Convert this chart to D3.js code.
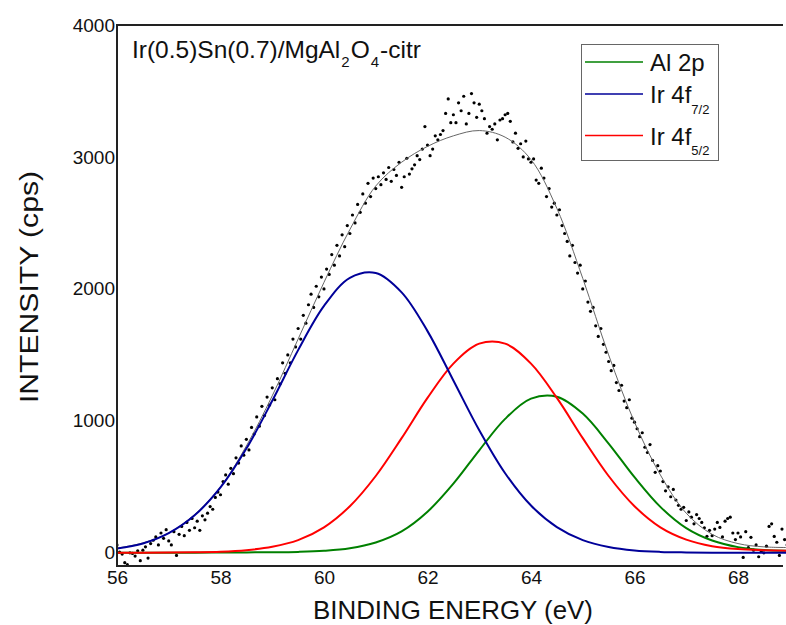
<!DOCTYPE html>
<html>
<head>
<meta charset="utf-8">
<script src="https://cdn.jsdelivr.net/npm/d3@7"></script>
<style>
  html, body { margin: 0; padding: 0; background: #ffffff; }
  svg { display: block; }
  text { font-family: "Liberation Sans", Arial, sans-serif; fill: #111; }
</style>
</head>
<body>
<svg id="chart" width="786" height="625"></svg>
<script>
// Binding-energy grid of the fitted curves (eV, 0.5 eV step)
const fitEnergy = [56, 56.5, 57, 57.5, 58, 58.5, 59, 59.5, 60, 60.5, 61, 61.5, 62, 62.5,
                   63, 63.5, 64, 64.5, 65, 65.5, 66, 66.5, 67, 67.5, 68, 68.5, 69];

// Fitted components (cps)
const ir72 = [32, 71, 149, 284, 495, 790, 1152, 1536, 1871, 2084, 2121, 1974, 1680, 1306,
              929, 603, 358, 195, 96, 44, 18, 7, 3, 1, 0, 0, 0];
const ir52 = [1, 1, 2, 4, 8, 20, 46, 96, 193, 353, 582, 869, 1174, 1434,
              1585, 1585, 1434, 1174, 869, 582, 353, 193, 100, 50, 28, 20, 16];
const al2p = [0, 0, 1, 1, 2, 3, 4, 7, 15, 34, 78, 162, 311, 524,
              777, 1015, 1168, 1183, 1055, 828, 573, 348, 187, 93, 43, 22, 16];
// Overall fit envelope (cps)
const envelope = [35, 75, 150, 290, 500, 810, 1190, 1620, 2050, 2450, 2780, 2960, 3080, 3160,
                  3200, 3150, 2980, 2610, 2080, 1500, 990, 590, 300, 140, 70, 45, 40];

// Measured spectrum: start energy, step, counts
const expStart = 56.0;
const expStep = 0.05;
const expCounts = [
  60, 5, -10, -75, -90, 0, -5, -25, 15, -60,
  20, 45, -40, 70, 95, 120, 60, 150, 110, 175,
  90, 60, 160, -20, 140, 200, 130, 230, 170, 260,
  190, 240, 170, 280, 250, 300, 350, 330, 420, 460,
  440, 540, 590, 520, 640, 600, 720, 680, 810, 740,
  860, 780, 950, 900, 1030, 960, 1110, 1040, 1180, 1120,
  1250, 1160, 1320, 1280, 1440, 1360, 1500, 1440, 1620, 1560,
  1700, 1620, 1800, 1740, 1880, 1960, 1860, 2020, 1940, 2090,
  2000, 2150, 2110, 2260, 2180, 2330, 2250, 2410, 2320, 2480,
  2420, 2560, 2500, 2640, 2580, 2720, 2650, 2800, 2700, 2840,
  2760, 2850, 2790, 2880, 2830, 2920, 2815, 2905, 2860, 2960,
  2770, 2850, 2990, 2870, 2910, 2940, 3010, 2980, 3060, 3230,
  3090, 3010, 3060, 3160, 3130, 3170, 3200, 3330, 3440, 3260,
  3320, 3260, 3410, 3350, 3460, 3250, 3330, 3480, 3410, 3300,
  3400, 3350, 3290, 3180, 3230, 3210, 3250, 3130, 3280, 3290,
  3320, 3330, 3270, 3114, 3180, 3065, 3100, 3000, 3120, 2985,
  2960, 2985, 2825, 2800, 2915, 2840, 2700, 2760, 2620, 2650,
  2560, 2600, 2480, 2420, 2360, 2250, 2330, 2200, 2120, 2180,
  2000, 2060, 1900, 1830, 1860, 1720, 1640, 1700, 1580, 1520,
  1450, 1380, 1420, 1290, 1230, 1270, 1150, 1100, 1160, 1020,
  990, 940, 880, 910, 800, 760, 820, 700, 610, 660,
  620, 540, 470, 500, 425, 480, 400, 360, 330, 345,
  245, 310, 270, 220, 290, 260, 230, 190, 125, 170,
  130, 180, 230, 192, 120, 240, 260, 270, 150, 100,
  150, 120, -35, 160, 40, 117, 20, 60, -30, 10,
  0, 50, 200, 220, 124, 80, -20, 180, 100, 60,
  140
];

const xTicks = [56, 58, 60, 62, 64, 66, 68];
const yTicks = [0, 1000, 2000, 3000, 4000];

const legendItems = [
  { label: "Al 2p", sub: "", color: "#008000" },
  { label: "Ir 4f", sub: "7/2", color: "#000099" },
  { label: "Ir 4f", sub: "5/2", color: "#ff0000" }
];

const svg = d3.select("#chart");
const plotLeft = 117, plotTop = 25, plotBottom = 566, axisRight = 783;

const x = d3.scaleLinear().domain([56, 69]).range([plotLeft, plotLeft + 13 * 51.75]);
const y = d3.scaleLinear().domain([-100, 4000]).range([plotBottom, plotTop]);

svg.append("defs").append("clipPath").attr("id", "plotclip")
  .append("rect").attr("x", plotLeft).attr("y", plotTop)
  .attr("width", 786 - plotLeft).attr("height", plotBottom - plotTop);

const plot = svg.append("g").attr("clip-path", "url(#plotclip)");

// Measured points
const pts = expCounts.map((c, i) => ({ e: expStart + i * expStep, c }));
plot.selectAll("circle.pt").data(pts).enter().append("circle")
  .attr("class", "pt")
  .attr("cx", d => x(d.e)).attr("cy", d => y(d.c)).attr("r", 1.6)
  .attr("fill", "#000");

const line = d3.line().x(d => x(d[0])).y(d => y(d[1])).curve(d3.curveCatmullRom.alpha(0.5));

plot.append("path").attr("d", line(fitEnergy.map((e, i) => [e, envelope[i]])))
  .attr("fill", "none").attr("stroke", "#666").attr("stroke-width", 1);

const comps = [
  { vals: al2p, color: "#008000" },
  { vals: ir52, color: "#ff0000" },
  { vals: ir72, color: "#000099" }
];
comps.forEach(cmp => {
  plot.append("path")
    .attr("d", line(fitEnergy.map((e, i) => [e, cmp.vals[i]])))
    .attr("fill", "none").attr("stroke", cmp.color).attr("stroke-width", 2);
});

// Frame: left, top and bottom lines
const frame = svg.append("g").attr("stroke", "#222").attr("stroke-width", 2).attr("fill", "none");
frame.append("line").attr("x1", plotLeft).attr("x2", plotLeft).attr("y1", plotTop - 1).attr("y2", plotBottom + 1);
frame.append("line").attr("x1", plotLeft).attr("x2", axisRight).attr("y1", plotTop).attr("y2", plotTop);
frame.append("line").attr("x1", plotLeft).attr("x2", axisRight).attr("y1", plotBottom).attr("y2", plotBottom);

// Tick labels from d3 axes, tick marks hidden
const xAxis = svg.append("g").attr("transform", `translate(0,${plotBottom})`)
  .call(d3.axisBottom(x).tickValues(xTicks).tickSize(0).tickPadding(5).tickFormat(d3.format("d")));
xAxis.select(".domain").remove();
xAxis.selectAll("text").attr("font-size", 19).attr("font-family", "Liberation Sans, Arial, sans-serif").attr("fill", "#111");

const yAxis = svg.append("g").attr("transform", `translate(${plotLeft},0)`)
  .call(d3.axisLeft(y).tickValues(yTicks).tickSize(0).tickPadding(2).tickFormat(d3.format("d")));
yAxis.select(".domain").remove();
yAxis.selectAll("text").attr("font-size", 19).attr("font-family", "Liberation Sans, Arial, sans-serif").attr("fill", "#111");

svg.append("text").attr("x", 453).attr("y", 619).attr("text-anchor", "middle")
  .attr("font-size", 25).attr("textLength", 280).attr("lengthAdjust", "spacingAndGlyphs")
  .text("BINDING ENERGY (eV)");
svg.append("text").attr("transform", "translate(38,287) rotate(-90)").attr("text-anchor", "middle")
  .attr("font-size", 25).attr("textLength", 232).attr("lengthAdjust", "spacingAndGlyphs")
  .text("INTENSITY (cps)");

// Sample name
const title = svg.append("text").attr("x", 132).attr("y", 58).attr("font-size", 24.5);
title.append("tspan").text("Ir(0.5)Sn(0.7)/MgAl");
title.append("tspan").attr("font-size", 15).attr("dy", 9).attr("dx", 1).text("2");
title.append("tspan").attr("dy", -9).attr("dx", 1).text("O");
title.append("tspan").attr("font-size", 15).attr("dy", 9).attr("dx", 1).text("4");
title.append("tspan").attr("dy", -9).attr("dx", 1).text("-citr");

// Legend
const lg = svg.append("g");
lg.append("rect").attr("x", 581.5).attr("y", 44.5).attr("width", 137).attr("height", 116)
  .attr("fill", "#fff").attr("stroke", "#666").attr("stroke-width", 1);
const rowY = [62, 94, 135.5];
legendItems.forEach((it, i) => {
  lg.append("line").attr("x1", 585).attr("x2", 643).attr("y1", rowY[i]).attr("y2", rowY[i])
    .attr("stroke", it.color).attr("stroke-width", 1.5);
  const t = lg.append("text").attr("x", 650).attr("y", rowY[i] + 9).attr("font-size", 24);
  t.append("tspan").text(it.label);
  if (it.sub) t.append("tspan").attr("font-size", 13).attr("dy", 10.5).text(it.sub);
});
</script>
</body>
</html>
